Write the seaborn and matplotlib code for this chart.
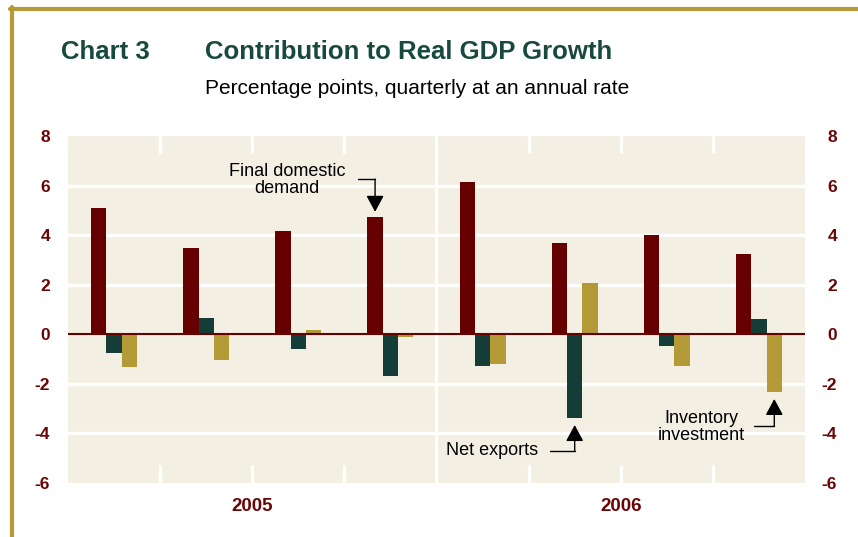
import matplotlib
matplotlib.use("Agg")
import matplotlib.pyplot as plt
from matplotlib.lines import Line2D
import numpy as np
import pandas as pd
import seaborn as sns

# Quarterly contributions to real GDP growth (percentage points, annual rate)
quarters = ["2005Q1", "2005Q2", "2005Q3", "2005Q4",
            "2006Q1", "2006Q2", "2006Q3", "2006Q4"]
final_domestic_demand = [5.1, 3.5, 4.17, 4.72, 6.15, 3.67, 4.0, 3.23]
net_exports = [-0.75, 0.64, -0.59, -1.7, -1.27, -3.39, -0.47, 0.61]
inventory_investment = [-1.3, -1.03, 0.16, -0.1, -1.19, 2.07, -1.27, -2.32]
series_names = ["Final domestic demand", "Net exports", "Inventory investment"]
year_labels = ["2005", "2006"]
y_ticks = [-6, -4, -2, 0, 2, 4, 6, 8]

series_colors = ["#660000", "#143d38", "#b39a36"]
panel_bg = "#f3f0e3"
tick_red = "#6b0505"
title_green = "#17493f"
frame_gold = "#b8993a"

df = pd.DataFrame({
    "quarter": quarters * 3,
    "series": np.repeat(series_names, len(quarters)),
    "value": final_domestic_demand + net_exports + inventory_investment,
})

sns.set_theme(style="white")
plt.rcParams["font.family"] = ["Liberation Sans", "DejaVu Sans"]

fig = plt.figure(figsize=(8.58, 5.37), dpi=100)
ax = fig.add_axes([68 / 858, 1 - 483 / 537, 737 / 858, 347 / 537])
ax.set_facecolor(panel_bg)

sns.barplot(data=df, x="quarter", y="value", hue="series",
            order=quarters, hue_order=series_names,
            palette=series_colors, saturation=1, width=0.5,
            linewidth=0, edgecolor="none", legend=False, ax=ax, zorder=3)

ax.set_xlim(-0.5, len(quarters) - 0.5)
ax.set_ylim(-6, 8)

# White grid: horizontal rules, a full divider between years, short quarter marks
for y in [-4, -2, 2, 4, 6]:
    ax.axhline(y, color="white", lw=2.3, zorder=1)
ax.axvline(3.5, color="white", lw=2.3, zorder=1)
for xb in [0.5, 1.5, 2.5, 4.5, 5.5, 6.5]:
    ax.plot([xb, xb], [7.3, 8], color="white", lw=2.3, zorder=1, solid_capstyle="butt")
    ax.plot([xb, xb], [-6, -5.28], color="white", lw=2.3, zorder=1, solid_capstyle="butt")
ax.axhline(0, color="#6b0000", lw=1.5, zorder=4)

for s in ax.spines.values():
    s.set_visible(False)

ax.set_yticks(y_ticks)
ax.set_yticklabels([str(v) for v in y_ticks])
ax.tick_params(axis="y", length=0, pad=13, labelsize=12.5, labelcolor=tick_red)
for lab in ax.get_yticklabels():
    lab.set_fontweight("bold")

ax.set_xticks([1.5, 5.5])
ax.set_xticklabels(year_labels)
ax.tick_params(axis="x", length=0, pad=11, labelsize=13.5, labelcolor=tick_red)
for lab in ax.get_xticklabels():
    lab.set_fontweight("bold")
ax.set_xlabel("")
ax.set_ylabel("")

ax2 = ax.twinx()
ax2.set_ylim(ax.get_ylim())
ax2.set_yticks(y_ticks)
ax2.set_yticklabels([str(v) for v in y_ticks])
ax2.tick_params(axis="y", length=0, pad=23, labelsize=12.5, labelcolor=tick_red)
for lab in ax2.get_yticklabels():
    lab.set_fontweight("bold")
    lab.set_horizontalalignment("right")
for s in ax2.spines.values():
    s.set_visible(False)
ax2.grid(False)


def callout(x_start, x_bar, y_elbow, y_tip):
    ax.plot([x_start, x_bar], [y_elbow, y_elbow], color="black", lw=1, zorder=5)
    ax.annotate("", xy=(x_bar, y_tip), xytext=(x_bar, y_elbow),
                arrowprops=dict(arrowstyle="-|>,head_length=0.5,head_width=0.27",
                                color="black", lw=1,
                                mutation_scale=20, shrinkA=0, shrinkB=0),
                zorder=5)


off = 0.5 / 3
# Final domestic demand, 2005Q4
callout(2.65, 3 - off, 6.26, final_domestic_demand[3] + 0.22)
ax.text(1.88, 6.22, "Final domestic\ndemand", ha="center", va="center",
        fontsize=13, linespacing=0.95, color="black", zorder=5)
# Net exports, 2006Q2
callout(4.73, 5, -4.71, net_exports[5] - 0.27)
ax.text(4.6, -4.67, "Net exports", ha="right", va="center",
        fontsize=13, color="black", zorder=5)
# Inventory investment, 2006Q4
callout(6.95, 7 + off, -3.7, inventory_investment[7] - 0.29)
ax.text(6.37, -3.74, "Inventory\ninvestment", ha="center", va="center",
        fontsize=13, linespacing=0.95, color="black", zorder=5)

# Titles
fig.text(61 / 858, 1 - 59 / 537, "Chart 3", fontsize=18.5, fontweight="bold",
         color=title_green, ha="left", va="baseline")
fig.text(205 / 858, 1 - 59 / 537, "Contribution to Real GDP Growth", fontsize=18.5,
         fontweight="bold", color=title_green, ha="left", va="baseline")
fig.text(205 / 858, 1 - 94 / 537, "Percentage points, quarterly at an annual rate",
         fontsize=15, color="black", ha="left", va="baseline")

# Gold frame on top and left edges
fig.add_artist(Line2D([10 / 858, 1], [1 - 9 / 537, 1 - 9 / 537],
                      transform=fig.transFigure, color=frame_gold, lw=3))
fig.add_artist(Line2D([12 / 858, 12 / 858], [0, 1 - 7 / 537],
                      transform=fig.transFigure, color=frame_gold, lw=3))

fig.savefig("out.png", dpi=100)
